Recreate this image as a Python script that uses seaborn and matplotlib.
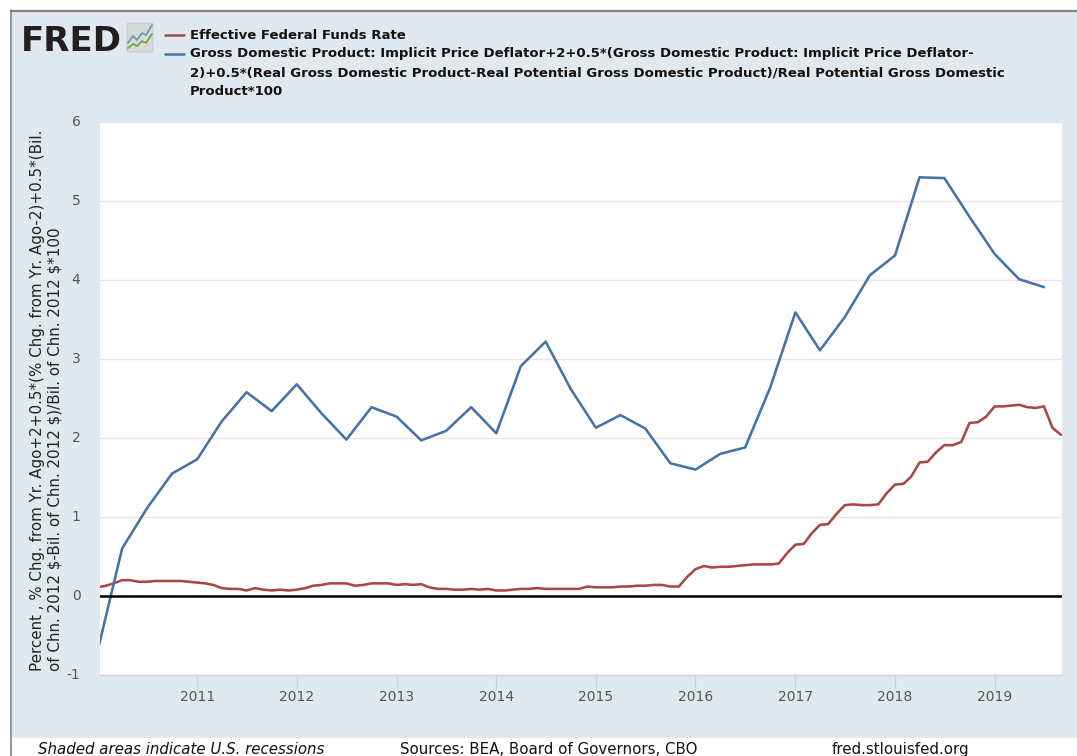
import pandas as pd
import matplotlib
matplotlib.use("Agg")
import matplotlib.pyplot as plt
from matplotlib.patches import Rectangle, FancyBboxPatch
import seaborn as sns

# quarterly deflator rule series
gdp_dates = pd.date_range("2010-01-01", "2019-07-01", freq="QS")
gdp_rule = [-0.70, 0.60, 1.11, 1.55,
            1.73, 2.21, 2.58, 2.34,
            2.68, 2.31, 1.98, 2.39,
            2.27, 1.97, 2.09, 2.39,
            2.06, 2.91, 3.22, 2.62,
            2.13, 2.29, 2.12, 1.68,
            1.60, 1.80, 1.88, 2.64,
            3.59, 3.11, 3.53, 4.06,
            4.31, 5.30, 5.29, 4.80,
            4.33, 4.01, 3.91]

# monthly fed funds rate
ffr_dates = pd.date_range("2010-01-01", "2019-09-01", freq="MS")
ffr = [0.11, 0.13, 0.16, 0.20, 0.20, 0.18, 0.18, 0.19, 0.19, 0.19, 0.19, 0.18,
       0.17, 0.16, 0.14, 0.10, 0.09, 0.09, 0.07, 0.10, 0.08, 0.07, 0.08, 0.07,
       0.08, 0.10, 0.13, 0.14, 0.16, 0.16, 0.16, 0.13, 0.14, 0.16, 0.16, 0.16,
       0.14, 0.15, 0.14, 0.15, 0.11, 0.09, 0.09, 0.08, 0.08, 0.09, 0.08, 0.09,
       0.07, 0.07, 0.08, 0.09, 0.09, 0.10, 0.09, 0.09, 0.09, 0.09, 0.09, 0.12,
       0.11, 0.11, 0.11, 0.12, 0.12, 0.13, 0.13, 0.14, 0.14, 0.12, 0.12, 0.24,
       0.34, 0.38, 0.36, 0.37, 0.37, 0.38, 0.39, 0.40, 0.40, 0.40, 0.41, 0.54,
       0.65, 0.66, 0.79, 0.90, 0.91, 1.04, 1.15, 1.16, 1.15, 1.15, 1.16, 1.30,
       1.41, 1.42, 1.51, 1.69, 1.70, 1.82, 1.91, 1.91, 1.95, 2.19, 2.20, 2.27,
       2.40, 2.40, 2.41, 2.42, 2.39, 2.38, 2.40, 2.13, 2.04]

year_ticks = [2011, 2012, 2013, 2014, 2015, 2016, 2017, 2018, 2019]
y_ticks = [-1, 0, 1, 2, 3, 4, 5, 6]

legend_ffr = "Effective Federal Funds Rate"
legend_gdp = ("Gross Domestic Product: Implicit Price Deflator+2+0.5*(Gross Domestic Product: Implicit Price Deflator-\n"
              "2)+0.5*(Real Gross Domestic Product-Real Potential Gross Domestic Product)/Real Potential Gross Domestic\n"
              "Product*100")
y_label = ("Percent , % Chg. from Yr. Ago+2+0.5*(% Chg. from Yr. Ago-2)+0.5*(Bil.\n"
           "of Chn. 2012 $-Bil. of Chn. 2012 $)/Bil. of Chn. 2012 $*100")

RED = "#aa4643"
BLUE = "#4572a7"
PANEL = "#e1e9f0"
W, H = 1077, 756

sns.set_theme(style="white")
plt.rcParams['font.family'] = ['DejaVu Sans']
plt.rcParams['axes.unicode_minus'] = False

fig = plt.figure(figsize=(W / 100, H / 100), dpi=100, facecolor="white")


def fx(px):
    return px / W


def fy(py):
    return 1 - py / H


# light blue panel with grey top and left border, behind the axes
fig.add_artist(Rectangle((fx(10.5), fy(738)), fx(W - 10.5), (738 - 11) / H, transform=fig.transFigure,
                         facecolor=PANEL, edgecolor="none", zorder=-2))
fig.add_artist(plt.Line2D([fx(10.5), 1], [fy(11), fy(11)], color="#858585", lw=1.6, zorder=-1))
fig.add_artist(plt.Line2D([fx(10.5), fx(10.5)], [fy(10), fy(756)], color="#858585", lw=1.2, zorder=-1))

ax = fig.add_axes([fx(100), fy(675), fx(962), 553 / H])
ax.set_facecolor("white")

sns.lineplot(x=ffr_dates, y=ffr, ax=ax, color=RED, lw=1.85, zorder=3)
sns.lineplot(x=gdp_dates, y=gdp_rule, ax=ax, color=BLUE, lw=1.85, zorder=4)
ax.axhline(0, color="black", lw=1.8, zorder=5)

ax.set_ylim(-1, 6)
ax.set_xlim(pd.Timestamp("2010-01-10"), pd.Timestamp("2019-09-05"))
ax.set_xlabel("")
ax.set_yticks(y_ticks)
ax.set_xticks([pd.Timestamp(f"{y}-01-01") for y in year_ticks])
ax.set_xticklabels([str(y) for y in year_ticks])
ax.grid(axis="y", color="#e6e6e6", lw=1)
ax.grid(axis="x", visible=False)
ax.set_axisbelow(True)
for name, sp in ax.spines.items():
    sp.set_visible(name == "bottom")
ax.spines["bottom"].set_color("#c8d4e8")
ax.spines["bottom"].set_linewidth(1)
ax.tick_params(axis="x", bottom=True, length=11, width=1, color="#c8d4e8", labelsize=10, labelcolor="#555555", pad=0)
ax.tick_params(axis="y", length=0, labelsize=10, labelcolor="#555555", pad=14)
for lab in ax.get_yticklabels():
    lab.set_verticalalignment("center")

fig.text(fx(46), fy(400), y_label, rotation=90, ha="center", va="center", fontsize=10.9,
         color="#222222", linespacing=1.2, multialignment="left")

# logo
fig.text(fx(21), fy(51), "FRED", fontsize=24.5, fontweight="bold", color="#231f20", ha="left", va="baseline")
fig.add_artist(FancyBboxPatch((fx(127), fy(52)), fx(26), 29 / H, transform=fig.transFigure,
                              boxstyle="round,pad=0,rounding_size=0.002", facecolor="#d5d9d8", edgecolor="#c4c8c8", lw=0.6))
fig.add_artist(plt.Line2D([fx(p) for p in [128, 133, 137, 142, 146, 152]],
                          [fy(p) for p in [43, 36, 40, 33, 35, 25]], color="#6f9ab8", lw=1.3))
fig.add_artist(plt.Line2D([fx(p) for p in [128, 133, 137, 142, 146, 152]],
                          [fy(p) for p in [48, 44, 46, 41, 43, 34]], color="#77a844", lw=1.3))

# legend, done by hand so the wrapped label sits like the original
fig.add_artist(plt.Line2D([fx(165), fx(184)], [fy(35), fy(35)], color=RED, lw=1.8))
fig.add_artist(plt.Line2D([fx(165), fx(184)], [fy(54), fy(54)], color=BLUE, lw=1.8))
fig.text(fx(190), fy(35.5), legend_ffr, fontsize=9.58, fontweight="bold", color="#111111", va="center")
fig.text(fx(190), fy(47.5), legend_gdp, fontsize=9.58, fontweight="bold", color="#111111", va="top", linespacing=1.58)

# footer
fig.text(fx(38), fy(754), "Shaded areas indicate U.S. recessions", fontsize=10.85, style="italic", color="#111111", va="baseline")
fig.text(fx(400), fy(754), "Sources: BEA, Board of Governors, CBO", fontsize=10.85, color="#111111", va="baseline")
fig.text(fx(832), fy(754), "fred.stlouisfed.org", fontsize=10.85, color="#111111", va="baseline")

fig.savefig("out.png", dpi=100, facecolor="white")
